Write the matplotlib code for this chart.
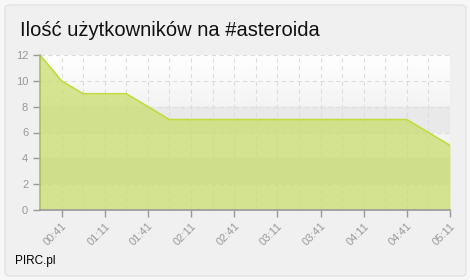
import numpy as np
import matplotlib.pyplot as plt
from matplotlib.patches import FancyBboxPatch

plt.rcParams['font.family'] = ['Liberation Sans', 'DejaVu Sans']

times = ['00:26', '00:41', '00:56', '01:11', '01:26', '01:41', '01:56', '02:11',
         '02:26', '02:41', '02:56', '03:11', '03:26', '03:41', '03:56', '04:11',
         '04:26', '04:41', '04:56', '05:11']
users = [12, 10, 9, 9, 9, 8, 7, 7, 7, 7, 7, 7, 7, 7, 7, 7, 7, 7, 6, 5]
y_ticks = [0, 2, 4, 6, 8, 10, 12]

fig = plt.figure(figsize=(4.7, 2.8), dpi=100)
fig.patch.set_facecolor('#f7f7f7')
card = FancyBboxPatch((5 / 470, 4 / 280), 461 / 470, 271 / 280,
                      boxstyle='round,pad=0,rounding_size=0.012',
                      transform=fig.transFigure, facecolor='#f0f0f0',
                      edgecolor='#e2e2e2', linewidth=1, zorder=-10)
fig.patches.append(card)

ax = fig.add_axes([40 / 470, 1 - 210 / 280, 410 / 470, 155 / 280])
ax.set_zorder(5)
ax.set_facecolor('#f0f0f0')

x = np.arange(len(times))
xmax = len(times) - 1

# background: white gradient on top, grey bands below
shade = np.linspace(1.0, 0.955, 256)
grad = np.dstack([shade, shade, shade]).reshape(256, 1, 3)
ax.imshow(grad, extent=[0, xmax, 8, 12], aspect='auto', zorder=0)
ax.axhspan(6, 8, color='#e9e9e9', zorder=0.1)
ax.axhspan(4, 6, color='#f3f3f3', zorder=0.1)
ax.axhspan(2, 4, color='#e3e3e3', zorder=0.1)
ax.axhspan(0, 2, color='#f3f3f3', zorder=0.1)

for xi in x:
    ax.axvline(xi, color='#dddddd', linestyle=(0, (4, 3)), linewidth=0.8, zorder=0.5)
for yi in y_ticks[1:]:
    ax.axhline(yi, color='#dddddd', linestyle=(0, (4, 3)), linewidth=0.8, zorder=0.5)

ax.fill_between(x, users, 0, color='#c8dd6a', alpha=0.72, linewidth=0, zorder=1)
ax.plot(x, users, color='#c0dc40', linewidth=1.2, zorder=2)

ax.set_xlim(0, xmax)
ax.set_ylim(0, 12)
ax.set_yticks(y_ticks)
ax.set_xticks(x[1::2])
ax.set_xticklabels(times[1::2], rotation=45, ha='right', rotation_mode='anchor')
ax.tick_params(axis='both', colors='#999999', labelcolor='#999999', labelsize=8,
               length=5, width=1)
ax.tick_params(axis='x', pad=3)

for s in ['top', 'right']:
    ax.spines[s].set_visible(False)
ax.spines['left'].set_color('#a9bd5c')
ax.spines['left'].set_linewidth(1.2)
ax.spines['bottom'].set_color('#999999')
ax.spines['bottom'].set_linewidth(1.2)

fig.text(20 / 470, 1 - 30 / 280, 'Ilość użytkowników na #asteroida',
         fontsize=14.5, color='#111111', va='center', ha='left')
fig.text(15 / 470, 1 - 261 / 280, 'PIRC.pl', fontsize=8.5, color='#000000',
         va='center', ha='left')

fig.savefig('out.png', dpi=100, facecolor=fig.get_facecolor())
